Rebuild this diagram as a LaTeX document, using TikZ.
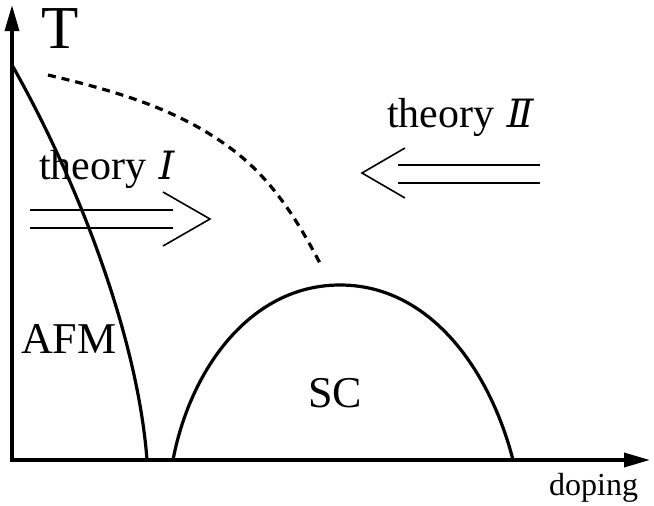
\documentclass[tikz,border=0pt]{standalone}
\usepackage{fontspec}
\setmainfont{Liberation Serif}
\newfontfamily\romnum[FakeSlant=0.2]{DejaVu Serif}
\usetikzlibrary{arrows.meta}
\tikzset{
  axis/.style = {line width=3.5pt, -{Triangle[length=26pt,width=14pt]}},
  curve/.style = {line width=3.2pt},
  thinline/.style = {line width=1.6pt, line join=miter},
  label/.style = {anchor=base west, inner sep=0pt}
}
\newcommand{\bigfont}[1]{\fontsize{#1}{#1}\selectfont}

\begin{document}
\begin{tikzpicture}[x=1pt, y=-1pt]
	\useasboundingbox (0,0) rectangle (654,506);
	% axes
	\coordinate (O) at (12,460);
	\coordinate (Ttop) at (12,5);
	\coordinate (Dend) at (650,460);
	\draw [axis] (O) -- (Ttop);
	\draw [axis] ([xshift=-1.75pt]O) -- (Dend);
	\node [label] (Tlab) at (41,48) {\bigfont{61}T};
	\node [label] (doplab) at (549,495) {\bigfont{32}doping};
	% phase boundaries
	\draw [curve] (12,65) .. controls (80,185) and (138,340) .. (147,460);
	\draw [curve] (173,460) .. controls (190,370) and (250,285) .. (340,285)
	              .. controls (430,285) and (490,370) .. (513,460);
	\draw [curve, dash pattern=on 8pt off 6pt] (48,75) .. controls (120,92) and (180,110) .. (233,150)
	              .. controls (275,182) and (300,225) .. (322,267);
	\node [label] (AFM) at (21,353) {\bigfont{44}AFM};
	\node [anchor=base, inner sep=0pt] (SC) at (335,407) {\bigfont{44}SC};
	% theory I
	\node [label] (thI) at (39,179) {\bigfont{42}theory {\romnum\fontsize{39}{39}\selectfont Ⅰ}};
	\coordinate (a1) at (30,210);  \coordinate (b1) at (173,210);
	\coordinate (a2) at (30,228);  \coordinate (b2) at (173,228);
	\coordinate (h1) at (163,192); \coordinate (tip1) at (210,219); \coordinate (h2) at (163,246);
	\draw [thinline] (a1) -- (b1);
	\draw [thinline] (a2) -- (b2);
	\draw [thinline] (h1) -- (tip1) -- (h2);
	% theory II
	\node [label] (thII) at (387,127) {\bigfont{42}theory {\romnum\fontsize{39}{39}\selectfont Ⅱ}};
	\coordinate (c1) at (540,165); \coordinate (d1) at (398,165);
	\coordinate (c2) at (540,183); \coordinate (d2) at (398,183);
	\coordinate (k1) at (405,148); \coordinate (tip2) at (362,173); \coordinate (k2) at (405,198);
	\draw [thinline] (c1) -- (d1);
	\draw [thinline] (c2) -- (d2);
	\draw [thinline] (k1) -- (tip2) -- (k2);
\end{tikzpicture}
\end{document}
